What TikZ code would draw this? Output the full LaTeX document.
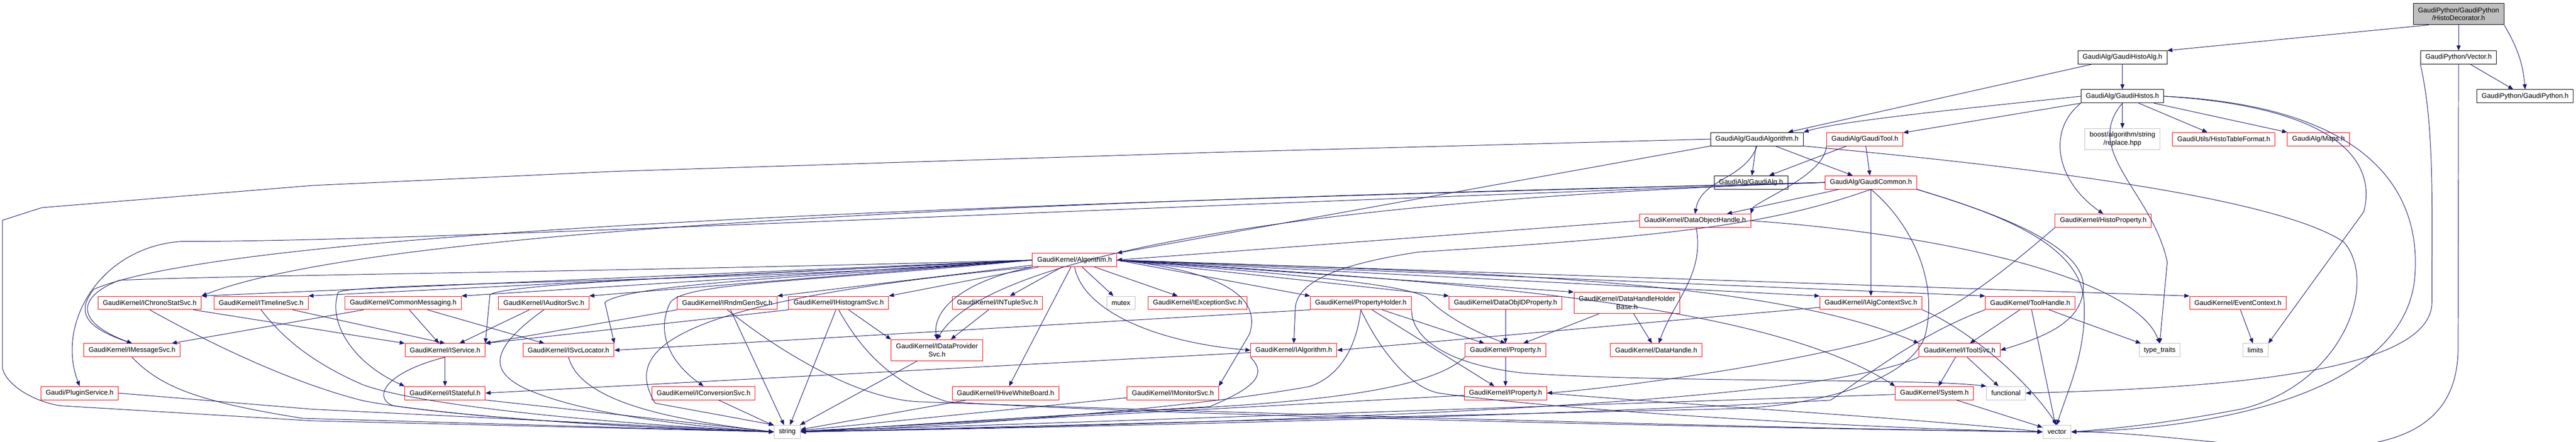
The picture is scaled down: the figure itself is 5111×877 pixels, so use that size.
\documentclass[tikz,border=0pt]{standalone}
\usepackage{fontspec}
\setmainfont{Liberation Sans}
\usetikzlibrary{arrows.meta}
\definecolor{lien}{HTML}{191970}
\definecolor{grisbord}{HTML}{BFBFBF}
\begin{document}
\begin{tikzpicture}[x=0.1pt,y=-0.1pt, % un pixel = 0.1pt
  boite/.style={draw,line width=0.1pt,font=\fontsize{1.36}{1.6}\selectfont,inner xsep=0.95pt,inner ysep=0pt,minimum height=2.65pt,align=center},
  rouge/.style={boite,draw=red},
  noir/.style={boite,draw=black},
  gris/.style={boite,draw=grisbord},
  racine/.style={boite,draw=black,fill=grisbord},
  deux/.style={minimum height=4.2pt},
  lien/.style={draw=lien,line width=0.1pt,-{Triangle[length=1pt,width=0.8pt]}}]
\useasboundingbox (0,0) rectangle (5111,877); % la taille de l'image
% les fichiers du haut
\node[racine,deux] (deco) at (4878,28) {GaudiPython/GaudiPython\\/HistoDecorator.h};
\node[noir] (histoalg) at (4211,114) {GaudiAlg/GaudiHistoAlg.h};
\node[noir] (vector) at (4878,114) {GaudiPython/Vector.h};
\node[noir] (histos) at (4211,191) {GaudiAlg/GaudiHistos.h};
\node[noir] (gpy) at (5010,191) {GaudiPython/GaudiPython.h};
\node[noir] (galgo) at (3486,276) {GaudiAlg/GaudiAlgorithm.h};
\node[rouge] (tool) at (3700,276) {GaudiAlg/GaudiTool.h};
\node[gris,deux] (boost) at (4211,276) {boost/algorithm/string\\/replace.hpp};
\node[rouge] (table) at (4412,276) {GaudiUtils/HistoTableFormat.h};
\node[rouge] (maps) at (4600,276) {GaudiAlg/Maps.h};
\node[noir] (galg) at (3474,362) {GaudiAlg/GaudiAlg.h};
\node[rouge] (common) at (3712,362) {GaudiAlg/GaudiCommon.h};
\node[rouge] (doh) at (3363,438) {GaudiKernel/DataObjectHandle.h};
\node[rouge] (hprop) at (4173,438) {GaudiKernel/HistoProperty.h};
\node[rouge] (alg) at (2132,516) {GaudiKernel/Algorithm.h};
% la rangee des interfaces
\node[rouge] (chrono) at (297,601) {GaudiKernel/IChronoStatSvc.h};
\node[rouge] (timeline) at (518,601) {GaudiKernel/ITimelineSvc.h};
\node[rouge] (commsg) at (800,601) {GaudiKernel/CommonMessaging.h};
\node[rouge] (audit) at (1079,601) {GaudiKernel/IAuditorSvc.h};
\node[rouge] (rndm) at (1443,601) {GaudiKernel/IRndmGenSvc.h};
\node[rouge] (histsvc) at (1664,601) {GaudiKernel/IHistogramSvc.h};
\node[rouge] (ntuple) at (1979,601) {GaudiKernel/INTupleSvc.h};
\node[gris] (mutex) at (2224,601) {mutex};
\node[rouge] (except) at (2376,601) {GaudiKernel/IExceptionSvc.h};
\node[rouge] (pholder) at (2700,601) {GaudiKernel/PropertyHolder.h};
\node[rouge] (objid) at (2987,601) {GaudiKernel/DataObjIDProperty.h};
\node[rouge,deux] (dhhb) at (3228,601) {GaudiKernel/DataHandleHolder\\Base.h};
\node[rouge] (ctx) at (3712,601) {GaudiKernel/IAlgContextSvc.h};
\node[rouge] (thandle) at (4028,601) {GaudiKernel/ToolHandle.h};
\node[rouge] (evt) at (4440,601) {GaudiKernel/EventContext.h};
\node[rouge] (imsg) at (262,695) {GaudiKernel/IMessageSvc.h};
\node[rouge] (isvc) at (883,695) {GaudiKernel/IService.h};
\node[rouge] (loc) at (1128,695) {GaudiKernel/ISvcLocator.h};
\node[rouge,deux] (dps) at (1859,695) {GaudiKernel/IDataProvider\\Svc.h};
\node[rouge] (ialg) at (2567,695) {GaudiKernel/IAlgorithm.h};
\node[rouge] (prop) at (2987,695) {GaudiKernel/Property.h};
\node[rouge] (dh) at (3286,695) {GaudiKernel/DataHandle.h};
\node[rouge] (toolsvc) at (3888,695) {GaudiKernel/IToolSvc.h};
\node[gris] (traits) at (4285,695) {type\_traits};
\node[gris] (limits) at (4475,695) {limits};
\node[rouge] (plugin) at (158,780) {Gaudi/PluginService.h};
\node[rouge] (state) at (883,780) {GaudiKernel/IStateful.h};
\node[rouge] (conv) at (1396,780) {GaudiKernel/IConversionSvc.h};
\node[rouge] (hive) at (1995,780) {GaudiKernel/IHiveWhiteBoard.h};
\node[rouge] (mon) at (2327,780) {GaudiKernel/IMonitorSvc.h};
\node[rouge] (iprop) at (2987,780) {GaudiKernel/IProperty.h};
\node[rouge] (sys) at (3838,780) {GaudiKernel/System.h};
\node[gris] (func) at (3980,780) {functional};
\node[gris] (str) at (1562,857) {string};
\node[gris] (vec) at (4081,857) {vector};
% les inclusions du haut
\draw[lien] (deco.200) -- (histoalg.north east);
\draw[lien] (deco) -- (vector);
\draw[lien] (deco.south east) to[out=-60,in=95] (gpy.north);
\draw[lien] (vector) -- (gpy);
\draw[lien] (vector.south) -- (4877,690) to[out=-90,in=0] (vec.east);
\draw[lien] (vector.south west) .. controls (4830,250) and (4825,400) .. (4825,600) .. controls (4825,740) and (4400,770) .. (func.east);
\draw[lien] (histoalg) -- (galgo);
\draw[lien] (histoalg) -- (histos);
\draw[lien] (histos.west) .. controls (3900,215) and (3650,240) .. (galgo.north east);
\draw[lien] (histos) -- (tool);
\draw[lien] (histos) -- (boost);
\draw[lien] (histos) -- (table);
\draw[lien] (histos) -- (maps);
\draw[lien] (histos.south west) .. controls (4060,260) and (4080,360) .. (hprop.north);
\draw[lien] (histos.south) .. controls (4130,300) and (4270,380) .. (4300,520) -- (traits.north);
\draw[lien] (histos.east) .. controls (4600,210) and (4720,300) .. (4690,420) -- (limits.north east);
\draw[lien] (histos.east) .. controls (4700,210) and (4810,380) .. (4790,560) .. controls (4760,780) and (4400,850) .. (vec.east);
\draw[lien] (galgo) -- (galg);
\draw[lien] (galgo) -- (common);
\draw[lien] (galgo.south) to[out=-110,in=80] (doh.north);
\draw[lien] (galgo.south west) -- (alg.north east);
\draw[lien] (galgo.west) -- (2420,302) -- (1220,340) -- (620,368) -- (83,412) -- (5,437) -- (5,730) .. controls (10,760) and (60,795) .. (119,805) -- (620,835) -- (str.west);
\draw[lien] (galgo.south east) .. controls (3900,320) and (4500,380) .. (4650,480) .. controls (4720,560) and (4650,760) .. (4450,811) .. controls (4300,840) and (4200,850) .. (vec.east);
\draw[lien] (tool) -- (galg);
\draw[lien] (tool) -- (common);
\draw[lien] (tool.south west) .. controls (3620,350) and (3480,400) .. (doh.north east);
\draw[lien] (common) -- (doh);
\draw[lien] (common) -- (ctx);
\draw[lien] (common.south east) .. controls (3950,420) and (4120,480) .. (4133,560) .. controls (4140,640) and (4050,670) .. (toolsvc.east);
\draw[lien] (common.south east) .. controls (3950,420) and (4130,480) .. (4135,600) .. controls (4140,700) and (4100,780) .. (vec.north);
\draw[lien] (common.south) .. controls (3790,440) and (3850,560) .. (3818,671) .. controls (3780,760) and (3600,805) .. (3440,811) .. controls (2600,830) and (1900,850) .. (str.east);
\draw[lien] (common.south) .. controls (3529,440) and (3357,467) .. (2815,500) .. controls (2650,525) and (2575,560) .. (2570,610) -- (ialg.north);
\draw[lien] (common.west) .. controls (2500,390) and (800,430) .. (chrono.north east);
\draw[lien] (common.west) .. controls (2400,395) and (500,440) .. (186,574) .. controls (150,620) and (170,650) .. (imsg.north);
\draw[lien] (common.west) .. controls (2000,420) and (800,480) .. (360,479) .. controls (200,490) and (110,640) .. (plugin.north);
\draw[lien] (common.west) .. controls (2500,400) and (1950,520) .. (dps.north);
\draw[lien] (doh) to[out=-80,in=70] (dh);
\draw[lien] (doh.west) -- (alg.east);
\draw[lien] (doh.east) .. controls (3800,460) and (4230,540) .. (traits.north);
\draw[lien] (hprop.south west) .. controls (3950,560) and (3850,640) .. (3700,680) .. controls (3500,730) and (3200,770) .. (iprop.east);
% les inclusions de Algorithm.h
\draw[lien] (alg.west) -- (chrono.north east);
\draw[lien] (alg.west) -- (timeline.north east);
\draw[lien] (alg.west) -- (commsg.north east);
\draw[lien] (alg.west) -- (audit.north east);
\draw[lien] (alg) -- (rndm.north east);
\draw[lien] (alg) -- (histsvc.north east);
\draw[lien] (alg) -- (ntuple);
\draw[lien] (alg) -- (mutex);
\draw[lien] (alg) -- (except);
\draw[lien] (alg.east) -- (pholder.north west);
\draw[lien] (alg.east) -- (objid.north west);
\draw[lien] (alg.east) -- (dhhb.north west);
\draw[lien] (alg.east) -- (ctx.north west);
\draw[lien] (alg.east) -- (thandle.north west);
\draw[lien] (alg.east) -- (evt.north west);
\draw[lien] (alg.west) .. controls (1200,540) and (500,545) .. (237,556) .. controls (150,590) and (150,640) .. (imsg.north);
\draw[lien] (alg.west) .. controls (1600,540) and (1000,560) .. (972,585) -- (isvc.north east);
\draw[lien] (alg.west) .. controls (1700,545) and (1250,560) .. (1200,600) -- (loc.north east);
\draw[lien] (alg.south west) .. controls (1900,560) and (1850,620) .. (dps.north);
\draw[lien] (alg.south) .. controls (2150,620) and (2300,680) .. (ialg.west);
\draw[lien] (alg.east) .. controls (2500,540) and (2780,560) .. (2830,590) .. controls (2870,630) and (2930,660) .. (prop.north);
\draw[lien] (alg.west) .. controls (1500,560) and (700,560) .. (671,580) .. controls (650,640) and (700,720) .. (state.north west);
\draw[lien] (alg.west) .. controls (1600,560) and (1360,560) .. (1330,600) .. controls (1300,660) and (1330,720) .. (conv.north);
\draw[lien] (alg) -- (hive);
\draw[lien] (alg.east) .. controls (2450,540) and (2500,600) .. (2479,663) -- (mon.north east);
\draw[lien] (alg.east) .. controls (2900,540) and (3500,550) .. (toolsvc.north west);
\draw[lien] (alg.east) .. controls (2900,560) and (3500,600) .. (sys.north west);
\draw[lien] (alg.south west) .. controls (1300,600) and (1240,700) .. (1300,800) -- (str.north west);
% les interfaces
\draw[lien] (chrono) -- (isvc.north west);
\draw[lien] (chrono.south) .. controls (450,700) and (600,765) .. (720,795) .. controls (900,830) and (1300,850) .. (str.west);
\draw[lien] (timeline) -- (isvc.north);
\draw[lien] (timeline.south) .. controls (560,670) and (620,720) .. (719,763) .. controls (830,805) and (1200,840) .. (str.west);
\draw[lien] (commsg) -- (isvc);
\draw[lien] (commsg) -- (imsg);
\draw[lien] (commsg) -- (loc);
\draw[lien] (audit) -- (isvc);
\draw[lien] (audit.south) .. controls (960,700) and (980,740) .. (1040,770) .. controls (1150,820) and (1350,845) .. (str.west);
\draw[lien] (rndm.south west) -- (isvc.north east);
\draw[lien] (rndm) -- (str);
\draw[lien] (rndm.south) .. controls (1550,700) and (1700,790) .. (1820,797) .. controls (2300,815) and (3500,850) .. (vec.west);
\draw[lien] (histsvc.south west) -- (isvc.north east);
\draw[lien] (histsvc) -- (str);
\draw[lien] (histsvc) -- (dps.north west);
\draw[lien] (histsvc.south) .. controls (1700,680) and (1760,760) .. (1879,797) .. controls (2300,825) and (3500,850) .. (vec.west);
\draw[lien] (ntuple) -- (dps);
\draw[lien] (pholder.south west) -- (loc.east);
\draw[lien] (pholder) -- (iprop);
\draw[lien] (pholder) -- (prop);
\draw[lien] (pholder.south) .. controls (2690,700) and (2650,750) .. (2598,767) .. controls (2300,820) and (1800,850) .. (str.east);
\draw[lien] (pholder.south) .. controls (2740,700) and (2800,770) .. (2855,780) .. controls (3100,815) and (3700,850) .. (vec.west);
\draw[lien] (pholder.south east) .. controls (2800,660) and (2850,720) .. (3020,740) .. controls (3300,760) and (3800,750) .. (func.north west);
\draw[lien] (objid) -- (prop);
\draw[lien] (dhhb) -- (prop);
\draw[lien] (dhhb) -- (dh);
\draw[lien] (ctx) -- (ialg.east);
\draw[lien] (ctx.south east) .. controls (3900,650) and (4020,750) .. (vec.north);
\draw[lien] (thandle) -- (toolsvc);
\draw[lien] (thandle) -- (traits);
\draw[lien] (thandle) -- (vec);
\draw[lien] (thandle.south west) .. controls (3813,660) and (3706,744) .. (3632,794) .. controls (3000,830) and (2000,850) .. (str.east);
\draw[lien] (evt) -- (limits);
\draw[lien] (imsg.south) .. controls (320,770) and (400,798) .. (600,830) -- (str.west);
\draw[lien] (isvc) -- (state);
\draw[lien] (isvc.south) .. controls (760,740) and (740,790) .. (780,805) .. controls (1000,835) and (1300,850) .. (str.west);
\draw[lien] (loc.south) .. controls (1150,790) and (1300,830) .. (str.west);
\draw[lien] (dps) -- (str);
\draw[lien] (ialg) -- (state.east);
\draw[lien] (ialg.south west) .. controls (2519,747) and (2479,773) .. (2400,807) .. controls (2000,830) and (1700,850) .. (str.east);
\draw[lien] (prop) -- (iprop);
\draw[lien] (prop.south west) .. controls (2850,760) and (2700,790) .. (2400,808) .. controls (2000,830) and (1700,850) .. (str.east);
\draw[lien] (iprop) -- (str);
\draw[lien] (iprop.east) .. controls (3300,800) and (3800,830) .. (vec.west);
\draw[lien] (toolsvc) -- (sys);
\draw[lien] (toolsvc) -- (func);
\draw[lien] (toolsvc.south west) .. controls (3650,780) and (3000,830) .. (str.east);
\draw[lien] (plugin.east) -- (620,812) -- (str.west);
\draw[lien] (state.south east) -- (1220,822) -- (str.west);
\draw[lien] (conv) -- (str);
\draw[lien] (hive) -- (str);
\draw[lien] (mon) -- (str);
\draw[lien] (sys) -- (str);
\draw[lien] (sys) -- (vec);
\end{tikzpicture}
\end{document}
